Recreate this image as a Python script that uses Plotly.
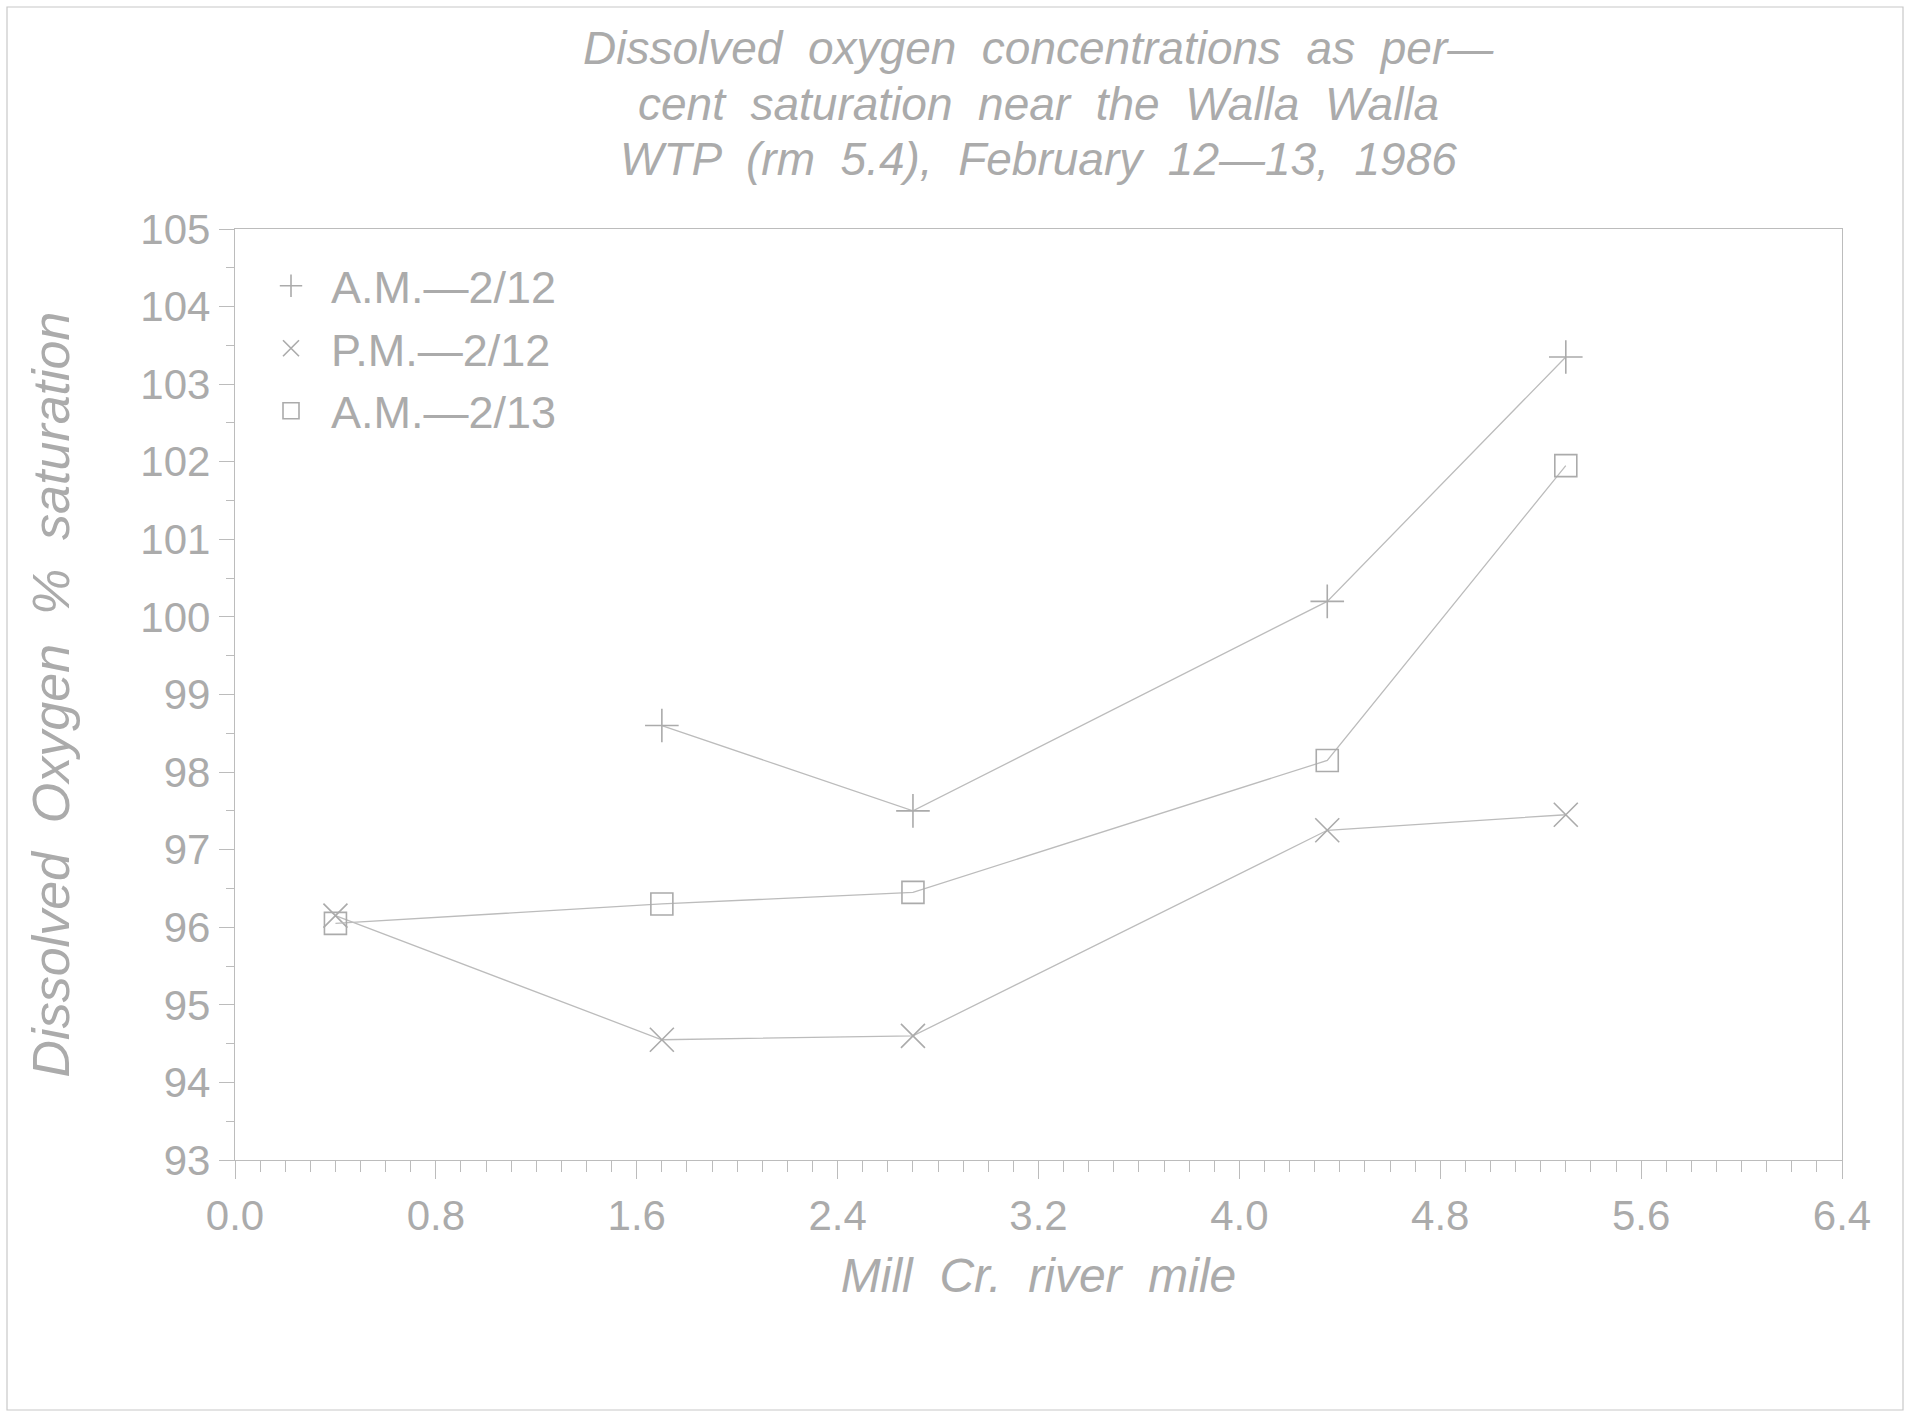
import plotly.graph_objects as go

# Mill Creek river miles of the sampling stations
river_mile_am_0212 = [1.7, 2.7, 4.35, 5.3]
river_mile_pm_0212 = [0.4, 1.7, 2.7, 4.35, 5.3]
river_mile_am_0213 = [0.4, 1.7, 2.7, 4.35, 5.3]

# Dissolved oxygen, percent saturation
do_am_0212 = [98.6, 97.5, 100.2, 103.35]
do_pm_0212 = [96.15, 94.55, 94.6, 97.25, 97.45]
do_am_0213 = [96.05, 96.3, 96.45, 98.15, 101.95]

series_names = ["A.M.\u20142/12", "P.M.\u20142/12", "A.M.\u20142/13"]
title_lines = [
    "Dissolved  oxygen  concentrations  as  per\u2014",
    "cent  saturation  near  the  Walla  Walla",
    "WTP  (rm  5.4),  February  12\u201413,  1986",
]
x_title = "Mill  Cr.  river  mile"
y_title = "Dissolved  Oxygen  %  saturation"

INK = "#ababab"
LINE = "#bcbcbc"
FONT = "Liberation Sans, Arial, sans-serif"

W, H = 1916, 1421
L, R, T, B = 235, 1842, 229, 1160  # plot area in pixels

fig = go.Figure()

symbols = ["cross-thin-open", "x-thin-open", "square-open"]
sizes = [24, 24, 22]
xs = [river_mile_am_0212, river_mile_pm_0212, river_mile_am_0213]
ys = [do_am_0212, do_pm_0212, do_am_0213]

for i in range(3):
    fig.add_trace(go.Scatter(
        x=xs[i], y=ys[i], mode="lines+markers", showlegend=False,
        line=dict(color=LINE, width=1.3),
        marker=dict(symbol=symbols[i], size=sizes[i], color=INK,
                    line=dict(color=INK, width=1.6)),
        cliponaxis=False,
    ))

# legend entries show only the plotting symbol
for i in range(3):
    fig.add_trace(go.Scatter(
        x=[None], y=[None], mode="markers", name=series_names[i],
        legendgroup=f"g{i}",
        marker=dict(symbol=symbols[i], size=16, color=INK,
                    line=dict(color=INK, width=1.6)),
    ))

def px_x(p):
    return (p - L) / (R - L)

def px_y(p):
    return (B - p) / (B - T)

# three-line title, spaced line by line
for k, (txt, yc) in enumerate(zip(title_lines, [48, 104, 159])):
    fig.add_annotation(
        text=f"<i>{txt}</i>", xref="paper", yref="paper",
        x=px_x(1038), y=px_y(yc), xanchor="center", yanchor="middle",
        showarrow=False, font=dict(family=FONT, size=46, color=INK),
    )

# page border
fig.add_shape(type="rect", xref="paper", yref="paper",
              x0=px_x(7), x1=px_x(1903), y0=px_y(1410), y1=px_y(7),
              line=dict(color="#c8c8c8", width=1.2))

axis_common = dict(
    showline=True, mirror=True, linecolor=LINE, linewidth=1.4,
    showgrid=False, zeroline=False, ticks="outside", tickcolor=LINE,
    tickwidth=1.2, tickfont=dict(family=FONT, size=42, color=INK),
)

fig.update_xaxes(
    range=[0, 6.4], tick0=0, dtick=0.8, tickformat=".1f", ticklen=18,
    ticklabelstandoff=0,
    minor=dict(dtick=0.1, ticks="outside", ticklen=11, tickcolor=LINE, tickwidth=1.2),
    title=dict(text=f"<i>{x_title}</i>", font=dict(family=FONT, size=48, color=INK),
               standoff=20),
    **axis_common,
)
fig.update_yaxes(
    range=[93, 105], tick0=93, dtick=1, ticklen=15, ticklabelstandoff=0,
    minor=dict(dtick=0.5, ticks="outside", ticklen=8, tickcolor=LINE, tickwidth=1.2),
    title=dict(text=f"<i>{y_title}</i>", font=dict(family=FONT, size=52, color=INK),
               standoff=54),
    **axis_common,
)

fig.update_layout(
    width=W, height=H, autosize=False,
    margin=dict(l=L, r=W - R, t=T, b=H - B, pad=0),
    paper_bgcolor="white", plot_bgcolor="white",
    showlegend=True,
    legend=dict(
        x=px_x(251), y=px_y(250), xanchor="left", yanchor="top",
        font=dict(family=FONT, size=45, color=INK),
        bgcolor="rgba(0,0,0,0)", tracegroupgap=1, traceorder="grouped",
        itemwidth=70,
    ),
)

fig.write_html("out.html")
